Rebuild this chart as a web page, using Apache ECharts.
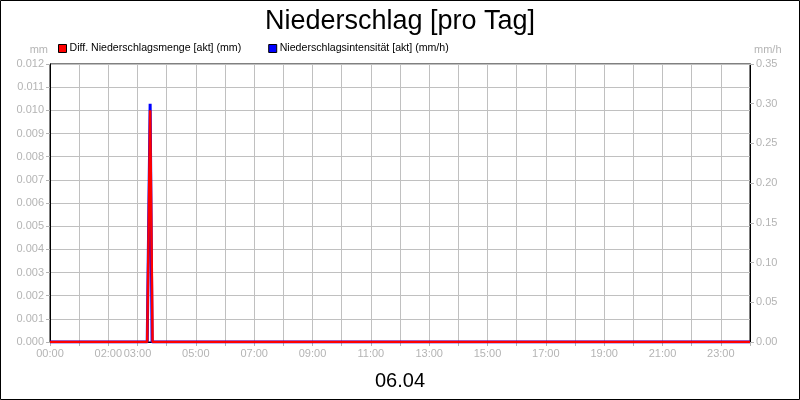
<!DOCTYPE html>
<html><head><meta charset="utf-8">
<script src="https://cdn.jsdelivr.net/npm/echarts@6/dist/echarts.min.js"></script>
<style>html,body{margin:0;padding:0;background:#fff}#c{width:800px;height:400px}</style>
</head><body><div id="c"></div>
<script>
const titleText = "Niederschlag [pro Tag]";
const dateText = "06.04";
const seriesNames = ["Diff. Niederschlagsmenge [akt] (mm)", "Niederschlagsintensität [akt] (mm/h)"];
const shownHourLabels = [0, 2, 3, 5, 7, 9, 11, 13, 15, 17, 19, 21, 23];
// times as HH:MM, values
const mengeTimes = ["00:00", "03:20", "03:26", "03:31", "24:00"];
const mengeValues = [0, 0, 0.010, 0, 0];
const intensTimes = ["00:00", "03:20", "03:26", "03:30", "24:00"];
const intensValues = [0, 0, 0.30, 0, 0];

function toHours(t){const p=t.split(":");return +p[0]+ (+p[1])/60;}
function pairs(ts, vs){return ts.map((t,i)=>[toHours(t), vs[i]]);}
function fmtHour(v){const h=Math.round(v);return (h<10?"0":"")+h+":00";}

const grey = "#b4b4b4";
const chart = echarts.init(document.getElementById('c'));
chart.setOption({
  animation:false,
  backgroundColor:'#fff',
  textStyle:{fontFamily:'Liberation Sans, Arial, sans-serif'},
  title:[
    {text:titleText,left:'center',top:3,textStyle:{fontSize:27,fontWeight:'normal',color:'#000'}},
    {text:dateText,left:'center',top:366,textStyle:{fontSize:20,fontWeight:'normal',color:'#000'}}
  ],
  legend:{
    left:53, top:38, itemWidth:8, itemHeight:8, itemGap:27,
    icon:'rect',
    textStyle:{fontSize:10.6,color:'#000',padding:[0,0,0,-2]},
    data:[{name:seriesNames[0],itemStyle:{color:'#ff0000',borderColor:'#000',borderWidth:1}},
          {name:seriesNames[1],itemStyle:{color:'#0000ff',borderColor:'#000',borderWidth:1}}]
  },
  grid:{left:50,right:50,top:64,bottom:58,show:true,borderColor:'#000',borderWidth:1},
  xAxis:{
    type:'value',min:0,max:24,interval:1,
    axisLine:{lineStyle:{color:'#000'}},
    axisTick:{show:true,length:4,lineStyle:{color:grey}},
    axisLabel:{color:grey,fontSize:11,margin:6,
      formatter:v=>shownHourLabels.indexOf(v)>=0?fmtHour(v):''},
    splitLine:{show:true,lineStyle:{color:'#c0c0c0'}}
  },
  yAxis:[
    {type:'value',min:0,max:0.012,interval:0.001,position:'left',
     name:'mm',nameLocation:'end',nameGap:9,
     nameTextStyle:{color:grey,fontSize:11,align:'right',padding:[0,2,0,0]},
     axisLine:{show:true,lineStyle:{color:'#000'}},
     axisTick:{show:true,length:4,lineStyle:{color:grey}},
     axisLabel:{color:grey,fontSize:11,margin:6,formatter:v=>v.toFixed(3)},
     splitLine:{show:true,lineStyle:{color:'#c0c0c0'}}},
    {type:'value',min:0,max:0.35,interval:0.05,position:'right',
     name:'mm/h',nameLocation:'end',nameGap:9,
     nameTextStyle:{color:grey,fontSize:11,align:'left',padding:[0,0,0,4]},
     axisLine:{show:true,lineStyle:{color:'#000'}},
     axisTick:{show:true,length:4,lineStyle:{color:grey}},
     axisLabel:{color:grey,fontSize:11,margin:6,formatter:v=>v.toFixed(2)},
     splitLine:{show:false}}
  ],
  series:[
    {name:seriesNames[1],type:'line',yAxisIndex:1,data:pairs(intensTimes,intensValues),
     showSymbol:false,symbol:'none',z:2,lineStyle:{color:'#0000ff',width:3},itemStyle:{color:'#0000ff'}},
    {name:seriesNames[0],type:'line',yAxisIndex:0,data:pairs(mengeTimes,mengeValues),
     showSymbol:false,symbol:'none',z:3,lineStyle:{color:'#ff0000',width:2.5},itemStyle:{color:'#ff0000'}}
  ],
  graphic:[{type:'rect',shape:{x:0.5,y:0.5,width:799,height:399},
    style:{fill:null,stroke:'#000',lineWidth:1},silent:true}]
});
</script></body></html>
